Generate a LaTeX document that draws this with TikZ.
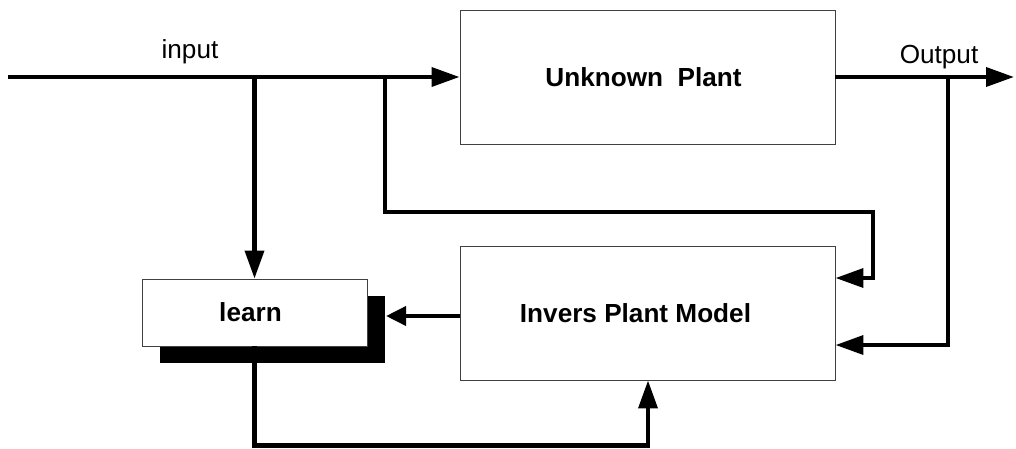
\documentclass[tikz,border=0pt]{standalone}
\usepackage{fontspec}
\setmainfont{Liberation Sans}
\usetikzlibrary{arrows.meta,calc,shadows}
\tikzset{
  >={Triangle[length=7mm,width=4.7mm]},
  plantbox/.style={draw=black!75,line width=0.6pt,minimum width=9.375cm,
    minimum height=3.35cm,inner sep=0pt,font=\fontsize{18.6}{22}\selectfont\bfseries},
  learnbox/.style={draw=black!75,fill=white,line width=0.6pt,minimum width=5.625cm,
    minimum height=1.675cm,inner sep=0pt,font=\fontsize{18.6}{22}\selectfont\bfseries,
    drop shadow={shadow xshift=4.5mm,shadow yshift=-4.25mm,fill=black,opacity=1}},
  sig/.style={line width=3pt},
  sigarr/.style={sig,->},
  smallarr/.style={sig,-{Triangle[length=5mm,width=4.7mm]}},
  siglbl/.style={inner sep=0pt,font=\fontsize{18.6}{22}\selectfont},
}
\begin{document}
\begin{tikzpicture}[x=0.025cm,y=-0.025cm]
  \useasboundingbox (0,0) rectangle (1016,448);
  % blocks
  \node[plantbox] (plant) at (647.5,77) {Unknown~~Plant\hspace*{2mm}};
  \node[plantbox] (model) at (647.5,313) {Invers Plant Model\hspace*{6mm}};
  \node[learnbox] (learn) at (254.5,312.5) {learn\hspace*{2mm}};
  % signal points
  \coordinate (in) at (8,77);
  \coordinate (out) at (1014,77);
  \coordinate (tapA) at (385,77);
  \coordinate (tapB) at (948,77);
  \coordinate (fwd) at (873,212);
  \coordinate (lrnin) at (386,316);
  \node[siglbl] (inlbl) at (190,52) {input};
  \node[siglbl] (outlbl) at (939,57) {Output};
  % connectors
  \draw[sigarr] (in) -- (plant.west);
  \draw[sigarr] (plant.east) -- (out);
  \draw[sigarr] (learn.north |- in) -- (learn.north);
  \draw[sigarr] (tapA) |- (fwd) |- ($(model.east)+(0,-35)$);
  \draw[sigarr] (tapB) |- ($(model.east)+(0,32)$);
  \draw[smallarr] (model.west |- lrnin) -- (lrnin);
  \draw[sigarr] (learn.south) -- ++(0,99) -| ($(model.south)+(0.5,0)$);
\end{tikzpicture}
\end{document}
